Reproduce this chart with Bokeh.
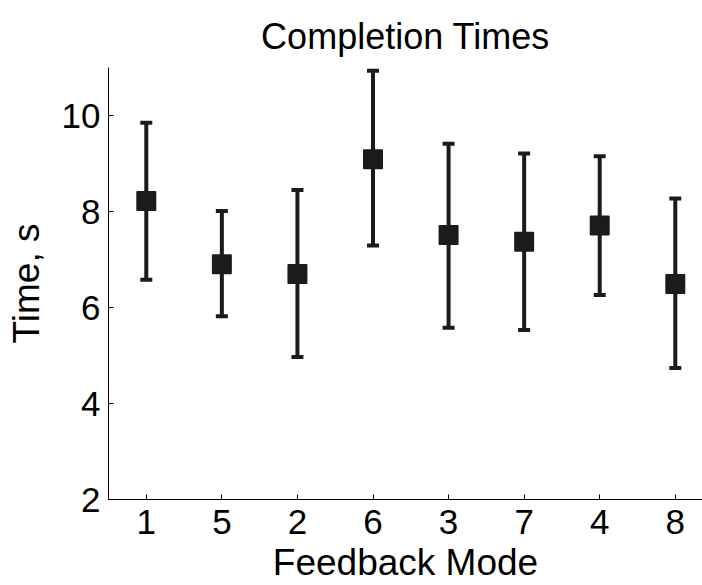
from bokeh.plotting import figure
from bokeh.models import Range1d, FixedTicker
from bokeh.embed import file_html
from bokeh.resources import INLINE

# Completion time per feedback mode: mean with lower/upper error limits (seconds)
modes = ["1", "5", "2", "6", "3", "7", "4", "8"]
means = [8.22, 6.90, 6.70, 9.09, 7.51, 7.37, 7.71, 6.49]
upper = [9.85, 8.01, 8.45, 10.93, 9.41, 9.21, 9.15, 8.27]
lower = [6.58, 5.82, 4.97, 7.29, 5.58, 5.53, 6.26, 4.74]
y_ticks = [2, 4, 6, 8, 10]

xs = list(range(1, len(modes) + 1))
ink = "#1b1b1b"
font = "Liberation Sans"

p = figure(
    width=702, height=585,
    x_range=Range1d(0.5, 8.36), y_range=Range1d(2, 11),
    output_backend="svg", toolbar_location=None,
    min_border_left=108, min_border_bottom=86, min_border_top=67, min_border_right=0,
)
p.title.text = "Completion Times"
p.title.align = "center"
p.title.text_font = font
p.title.text_font_size = "36px"
p.title.text_font_style = "normal"
p.title.text_color = "black"
p.title.standoff = 22

p.outline_line_color = None
p.xgrid.visible = False
p.ygrid.visible = False
p.background_fill_color = "white"
p.border_fill_color = "white"

for ax in (p.xaxis[0], p.yaxis[0]):
    ax.axis_line_color = "black"
    ax.axis_line_width = 1
    ax.major_tick_in = 5
    ax.major_tick_out = 0
    ax.minor_tick_in = 0
    ax.minor_tick_out = 0
    ax.major_tick_line_color = "black"
    ax.major_label_text_font = font
    ax.major_label_text_font_size = "35px"
    ax.major_label_text_color = "black"
    ax.axis_label_text_font = font
    ax.axis_label_text_font_size = "37px"
    ax.axis_label_text_font_style = "normal"
    ax.axis_label_text_color = "black"

p.xaxis.ticker = FixedTicker(ticks=xs)
p.xaxis.major_label_overrides = {x: m for x, m in zip(xs, modes)}
p.xaxis.axis_label = "Feedback Mode"
p.xaxis.major_label_standoff = 10
p.xaxis.axis_label_standoff = 5

p.yaxis.ticker = FixedTicker(ticks=y_ticks)
p.yaxis.axis_label = "Time, s"
p.yaxis.major_label_standoff = 8
p.yaxis.axis_label_standoff = 12

# error bars with end caps
p.segment(x0=xs, y0=lower, x1=xs, y1=upper, line_color=ink, line_width=4)
p.scatter(x=xs + xs, y=upper + lower, marker="dash", size=12,
          line_color=ink, line_width=4)

# mean markers
p.scatter(x=xs, y=means, marker="square", size=18, fill_color=ink,
          line_color=ink, line_width=2, line_join="round")

open("out.html", "w").write(file_html(p, INLINE))
